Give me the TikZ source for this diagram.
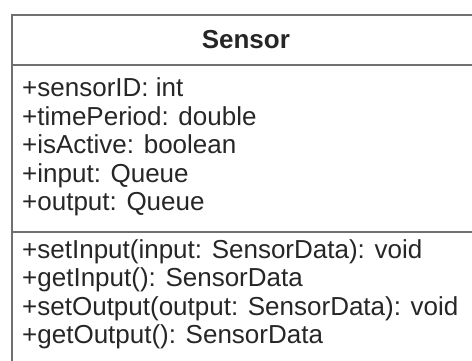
\documentclass[tikz,border=0pt]{standalone}
\usepackage{fontspec}
\setmainfont{Liberation Sans}
\usetikzlibrary{positioning}

\begin{document}
\begin{tikzpicture}[
					x=1pt,y=1pt,
					node distance=0pt,
					part/.style={rectangle,draw=black!56,line width=2.2pt,minimum width=468.3pt,inner sep=0pt,outer sep=0pt},
					members/.style={align=left,inner sep=0pt,text=black!85,font=\fontsize{26}{28.5}\selectfont},
					]
					\useasboundingbox (0,0) rectangle (472,361);
					\node [part,minimum height=50pt,anchor=north west] (head) at (11.7,346) {};
					\node [part,minimum height=167pt,below=of head] (attrs) {};
					\node [part,minimum height=132pt,below=of attrs] (ops) {};
					\node [members,font=\fontsize{26}{28.5}\selectfont\bfseries] (name) at (head.center) {Sensor};
					% base anchor sits on the last line
					\node [members,anchor=base west] (fields) at ([xshift=10.3pt,yshift=-146pt]attrs.north west)
						{+sensorID: int\\ +timePeriod: double\\ +isActive: boolean\\ +input: Queue\\ +output: Queue};
					\node [members,anchor=base west] (methods) at ([xshift=10.3pt,yshift=-111.8pt]ops.north west)
						{+setInput(input: SensorData): void\\ +getInput(): SensorData\\
						+setOutput(output: SensorData): void\\ +getOutput(): SensorData};
				\end{tikzpicture}
\end{document}
